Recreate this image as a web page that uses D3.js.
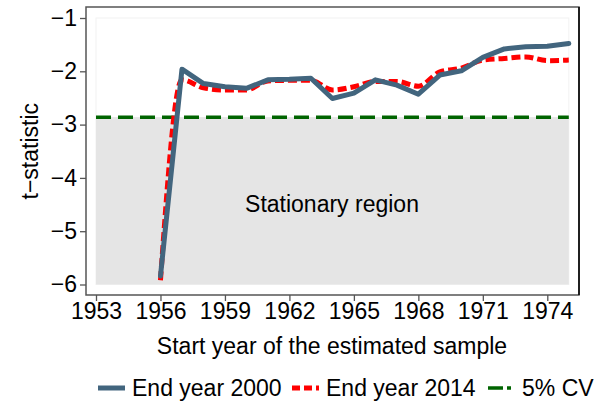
<!DOCTYPE html>
<html>
<head>
<meta charset="utf-8">
<script src="https://cdn.jsdelivr.net/npm/d3@7"></script>
<style>
  body { margin: 0; background: #fff; }
  text { font-family: "Liberation Sans", Arial, sans-serif; fill: #000; }
</style>
</head>
<body>
<script>
// start years of the estimated sample
const years = d3.range(1956, 1976);
// t-statistics, end year 2000
const end2000 = [-5.84, -1.96, -2.23, -2.29, -2.32, -2.16, -2.15, -2.13, -2.51, -2.41,
                 -2.16, -2.26, -2.43, -2.07, -1.99, -1.74, -1.58, -1.54, -1.53, -1.48];
// t-statistics, end year 2014
const end2014 = [-5.92, -2.16, -2.31, -2.35, -2.35, -2.18, -2.17, -2.17, -2.35, -2.29,
                 -2.19, -2.19, -2.28, -2.01, -1.94, -1.79, -1.76, -1.73, -1.80, -1.79];
const cv5 = -2.86;
const xTicks = [1953, 1956, 1959, 1962, 1965, 1968, 1971, 1974];
const yTicks = [-1, -2, -3, -4, -5, -6];

const width = 603, height = 407;
const frame = { left: 86, top: 7, right: 579, bottom: 295 };
const fontSize = 23;

const svg = d3.select("body").append("svg")
  .attr("width", width)
  .attr("height", height);

const x = d3.scaleLinear().domain([1953, 1974]).range([96, 547.3]);
const y = d3.scaleLinear().domain([-1, -6]).range([18, 284.5]);

// plot region background
svg.append("rect")
  .attr("x", x(1953)).attr("y", y(-1))
  .attr("width", x(1975) - x(1953)).attr("height", y(-6) - y(-1))
  .attr("fill", "#fff").attr("stroke", "#f2f2f2").attr("stroke-width", 1);

// stationary region
svg.append("rect")
  .attr("x", x(1953)).attr("y", y(cv5))
  .attr("width", x(1975) - x(1953)).attr("height", y(-6) - y(cv5))
  .attr("fill", "#e5e5e5");

svg.append("text")
  .attr("x", 332).attr("y", 212)
  .attr("text-anchor", "middle")
  .attr("font-size", fontSize)
  .text("Stationary region");

// frame
svg.append("rect")
  .attr("x", frame.left).attr("y", frame.top)
  .attr("width", frame.right - frame.left).attr("height", frame.bottom - frame.top)
  .attr("fill", "none").attr("stroke", "#555").attr("stroke-width", 1.5);
svg.append("line")
  .attr("x1", frame.right).attr("x2", frame.right)
  .attr("y1", frame.top).attr("y2", frame.bottom)
  .attr("stroke", "#000").attr("stroke-width", 1.5);

// axes
const yAxis = svg.append("g")
  .attr("transform", `translate(${frame.left},0)`)
  .call(d3.axisLeft(y).tickValues(yTicks).tickSize(6).tickPadding(3)
        .tickFormat(d => d3.format("d")(d).replace("-", "\u2212")));
const xAxis = svg.append("g")
  .attr("transform", `translate(0,${frame.bottom})`)
  .call(d3.axisBottom(x).tickValues(xTicks).tickSize(6).tickPadding(2)
        .tickFormat(d3.format("d")));
[xAxis, yAxis].forEach(g => {
  g.select(".domain").remove();
  g.selectAll("line").attr("stroke", "#555").attr("stroke-width", 1.3);
  g.selectAll("text").attr("font-size", fontSize).attr("fill", "#000")
    .style("font-family", '"Liberation Sans", Arial, sans-serif');
});

// axis titles
svg.append("text")
  .attr("x", 332).attr("y", 354)
  .attr("text-anchor", "middle")
  .attr("font-size", fontSize)
  .text("Start year of the estimated sample");
svg.append("text")
  .attr("transform", `translate(38,${y(-3.5)}) rotate(-90)`)
  .attr("text-anchor", "middle")
  .attr("font-size", fontSize)
  .text("t\u2212statistic");

// 5% critical value
svg.append("line")
  .attr("x1", x(1953)).attr("x2", x(1975))
  .attr("y1", y(cv5)).attr("y2", y(cv5))
  .attr("stroke", "#006400").attr("stroke-width", 3.5)
  .attr("stroke-dasharray", "15,7");

const line = d3.line()
  .x((d, i) => x(years[i]))
  .y(d => y(d));

svg.append("path")
  .datum(end2014)
  .attr("d", line.curve(d3.curveMonotoneX))
  .attr("fill", "none")
  .attr("stroke", "#ff0000").attr("stroke-width", 5)
  .attr("stroke-dasharray", "9,4");

svg.append("path")
  .datum(end2000)
  .attr("d", line.curve(d3.curveLinear))
  .attr("fill", "none")
  .attr("stroke", "#42657e").attr("stroke-width", 5)
  .attr("stroke-linejoin", "round").attr("stroke-linecap", "round");

// legend
const legend = [
  { label: "End year 2000", color: "#42657e", dash: null, w: 5, x0: 98 },
  { label: "End year 2014", color: "#ff0000", dash: "8,4", w: 5, x0: 292 },
  { label: "5% CV", color: "#006400", dash: "15,4,4,4", w: 3.5, x0: 488 }
];
const lg = svg.append("g");
legend.forEach(d => {
  lg.append("line")
    .attr("x1", d.x0).attr("x2", d.x0 + 27)
    .attr("y1", 388).attr("y2", 388)
    .attr("stroke", d.color).attr("stroke-width", d.w)
    .attr("stroke-dasharray", d.dash);
  lg.append("text")
    .attr("x", d.x0 + 34).attr("y", 396)
    .attr("font-size", fontSize)
    .text(d.label);
});
</script>
</body>
</html>
